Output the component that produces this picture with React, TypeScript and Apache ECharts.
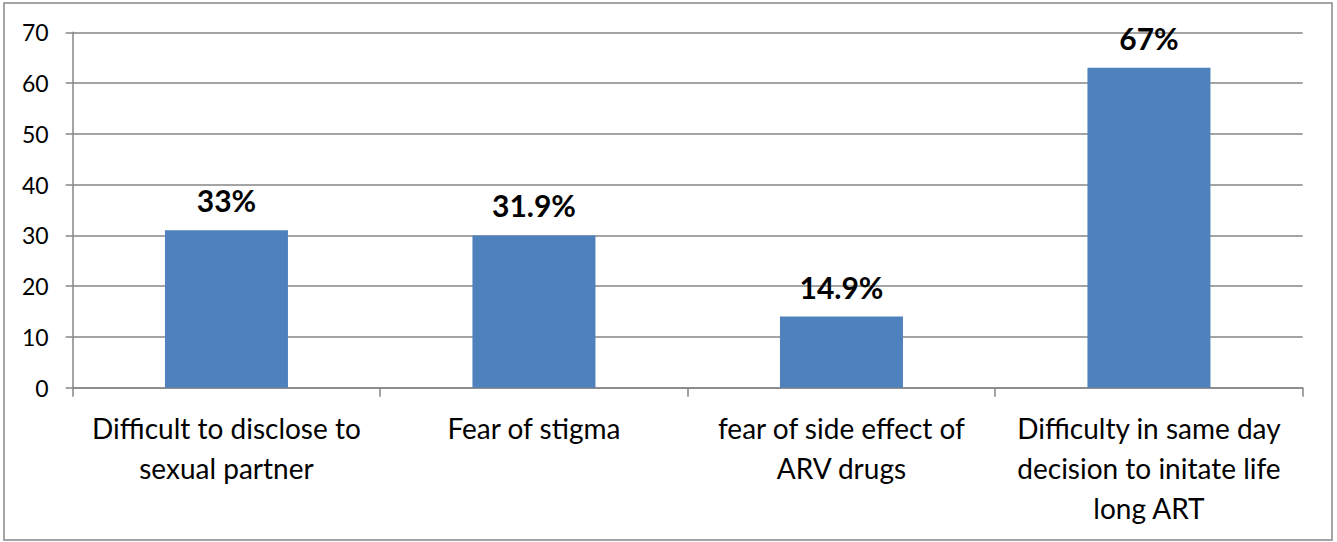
import React, { useEffect, useRef } from "react";
import * as echarts from "echarts";

const categories = [
  "Difficult to disclose to\nsexual partner",
  "Fear of stigma",
  "fear of side effect of\nARV drugs",
  "Difficulty in same day\ndecision to initate life\nlong ART",
];
const values = [31, 30, 14, 63];
const valueLabels = ["33%", "31.9%", "14.9%", "67%"];
const yMin = 0;
const yMax = 70;
const yInterval = 10;

const FONT = "Lato, 'Open Sans', sans-serif";
const GRAY = "#868686";

export default function App() {
  const ref = useRef<HTMLDivElement>(null);
  useEffect(() => {
    if (!ref.current) return;
    const chart = echarts.init(ref.current, null, { renderer: "svg" });
    chart.setOption({
      animation: false,
      backgroundColor: "#ffffff",
      textStyle: { fontFamily: FONT },
      graphic: [
        {
          type: "rect",
          shape: { x: 4, y: 3, width: 1328, height: 537 },
          style: { fill: "none", stroke: GRAY, lineWidth: 1.5 },
          silent: true,
        },
      ],
      grid: { left: 72.7, right: 34.3, top: 32.3, bottom: 154.3, containLabel: false },
      xAxis: {
        type: "category",
        data: categories,
        axisLine: { show: true, lineStyle: { color: GRAY, width: 1.5 } },
        axisTick: { show: true, length: 9, alignWithLabel: false, lineStyle: { color: GRAY, width: 1.5 } },
        axisLabel: {
          interval: 0,
          margin: 20,
          color: "#000",
          fontFamily: FONT,
          fontSize: 28,
          lineHeight: 40,
          align: "center",
        },
      },
      yAxis: {
        type: "value",
        min: yMin,
        max: yMax,
        interval: yInterval,
        axisLine: { show: true, lineStyle: { color: GRAY, width: 1.5 } },
        axisTick: { show: true, length: 7, lineStyle: { color: GRAY, width: 1.5 } },
        splitLine: { show: true, lineStyle: { color: GRAY, width: 1.5 } },
        axisLabel: { margin: 24, color: "#000", fontFamily: FONT, fontSize: 23 },
      },
      series: [
        {
          type: "bar",
          data: values,
          barWidth: "40%",
          itemStyle: { color: "#4F81BD" },
          label: {
            show: true,
            position: "top",
            distance: 15,
            color: "#000",
            fontFamily: FONT,
            fontWeight: "bold",
            fontSize: 30,
            formatter: (p: any) => valueLabels[p.dataIndex],
          },
        },
      ],
    });
    return () => chart.dispose();
  }, []);
  return (
    <div
      ref={ref}
      style={{ position: "fixed", left: 0, top: 0, width: 1337, height: 542 }}
    />
  );
}
